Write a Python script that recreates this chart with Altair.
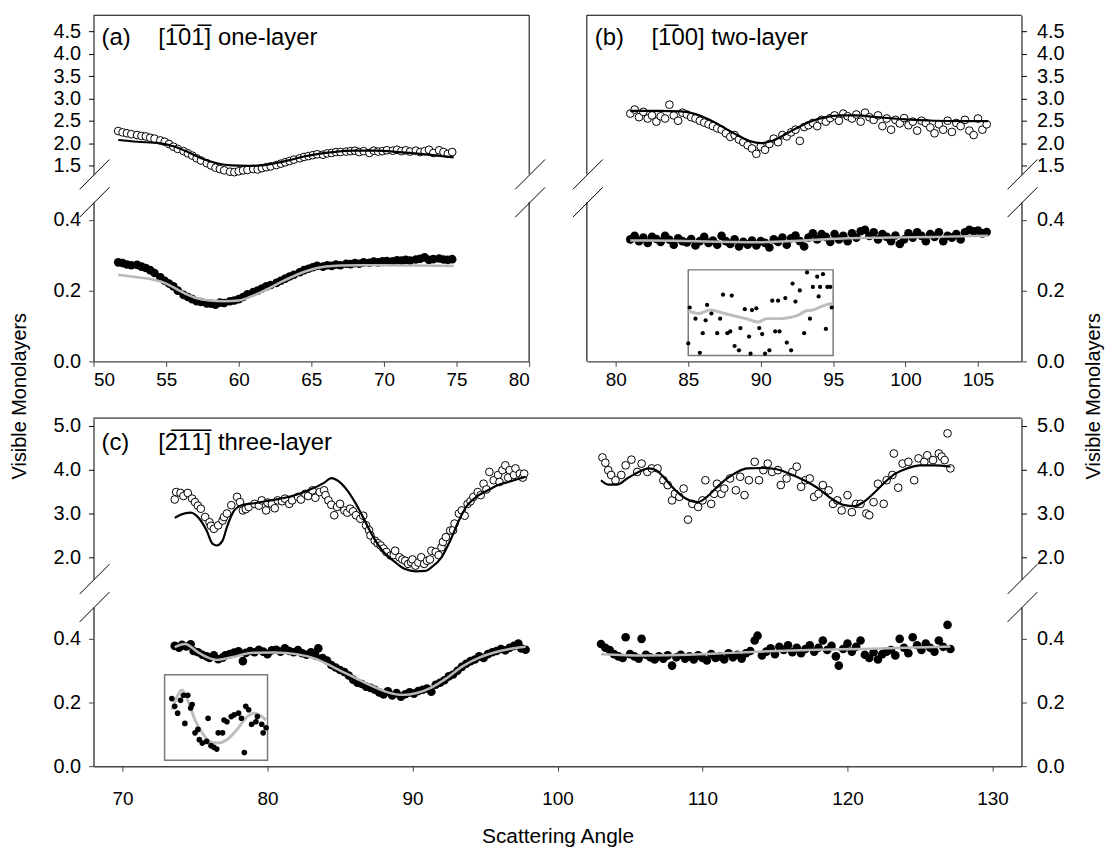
import altair as alt
import pandas as pd

FONT = "Liberation Sans"

# ---------------- panel (a) ----------------
a_x = [51.7, 52.0, 52.3, 52.6, 53.0, 53.3, 53.6, 53.9, 54.2, 54.6,
       54.9, 55.2, 55.5, 55.8, 56.2, 56.5, 56.8, 57.1, 57.4, 57.8,
       58.1, 58.4, 58.7, 59.0, 59.4, 59.7, 60.0, 60.3, 60.6, 61.0,
       61.3, 61.6, 61.9, 62.2, 62.6, 62.9, 63.2, 63.5, 63.8, 64.2,
       64.5, 64.8, 65.1, 65.4, 65.8, 66.1, 66.4, 66.7, 67.0, 67.4,
       67.7, 68.0, 68.3, 68.6, 69.0, 69.3, 69.6, 69.9, 70.2, 70.6,
       70.9, 71.2, 71.5, 71.8, 72.2, 72.5, 72.8, 73.1, 73.4, 73.8,
       74.1, 74.4, 74.7]
a_top = [2.27, 2.24, 2.22, 2.20, 2.18, 2.16, 2.15, 2.12, 2.10, 2.06,
         2.03, 1.98, 1.92, 1.87, 1.82, 1.77, 1.72, 1.66, 1.61, 1.55,
         1.50, 1.45, 1.42, 1.39, 1.36, 1.35, 1.37, 1.39, 1.40, 1.42,
         1.41, 1.44, 1.46, 1.48, 1.51, 1.54, 1.57, 1.60, 1.63, 1.66,
         1.69, 1.71, 1.73, 1.75, 1.74, 1.77, 1.78, 1.80, 1.80, 1.81,
         1.82, 1.83, 1.80, 1.82, 1.78, 1.83, 1.81, 1.82, 1.84, 1.83,
         1.85, 1.82, 1.84, 1.81, 1.83, 1.80, 1.82, 1.85, 1.78, 1.84,
         1.80, 1.76, 1.80]
a_bot = [0.280, 0.278, 0.274, 0.272, 0.273, 0.268, 0.264, 0.258, 0.250, 0.238,
         0.228, 0.220, 0.212, 0.200, 0.188, 0.182, 0.176, 0.170, 0.168, 0.164,
         0.163, 0.160, 0.166, 0.165, 0.170, 0.172, 0.176, 0.182, 0.190, 0.196,
         0.200, 0.206, 0.212, 0.216, 0.222, 0.228, 0.234, 0.240, 0.245, 0.252,
         0.258, 0.262, 0.266, 0.270, 0.268, 0.272, 0.270, 0.274, 0.272, 0.276,
         0.275, 0.278, 0.276, 0.280, 0.279, 0.282, 0.280, 0.283, 0.284, 0.283,
         0.286, 0.285, 0.287, 0.285, 0.288, 0.290, 0.294, 0.287, 0.289, 0.291,
         0.288, 0.287, 0.289]
a_fit_x = [51.7, 53.0, 54.5, 55.5, 56.5, 57.5, 58.5, 59.5, 60.5, 61.5, 62.5,
           63.5, 64.5, 65.5, 66.5, 68.0, 69.5, 71.0, 72.5, 74.0, 74.8]
a_fit_top = [2.07, 2.03, 2.00, 1.93, 1.80, 1.65, 1.55, 1.50, 1.49, 1.50, 1.55,
             1.62, 1.70, 1.76, 1.80, 1.83, 1.83, 1.80, 1.76, 1.71, 1.68]
a_grey_x = [51.7, 53.0, 54.0, 55.0, 56.0, 57.0, 58.0, 59.0, 60.0, 61.0,
            62.0, 63.0, 64.0, 65.0, 66.0, 67.0, 68.5, 70.0, 72.0, 74.8]
a_grey = [0.245, 0.238, 0.232, 0.220, 0.198, 0.180, 0.172, 0.170, 0.172, 0.186,
          0.205, 0.226, 0.245, 0.260, 0.268, 0.271, 0.272, 0.272, 0.271, 0.270]

# ---------------- panel (b) ----------------
b_x = [81.0, 81.3, 81.6, 81.9, 82.2, 82.5, 82.8, 83.1, 83.4, 83.7,
       84.0, 84.3, 84.6, 84.9, 85.2, 85.5, 85.8, 86.1, 86.4, 86.7,
       87.0, 87.3, 87.6, 87.9, 88.2, 88.5, 88.8, 89.1, 89.4, 89.7,
       90.0, 90.3, 90.6, 90.9, 91.2, 91.5, 91.8, 92.1, 92.4, 92.7,
       93.0, 93.3, 93.6, 93.9, 94.2, 94.5, 94.8, 95.1, 95.4, 95.7,
       96.0, 96.3, 96.6, 96.9, 97.2, 97.5, 97.8, 98.1, 98.4, 98.7,
       99.0, 99.3, 99.6, 99.9, 100.2, 100.5, 100.8, 101.1, 101.4, 101.7,
       102.0, 102.3, 102.6, 102.9, 103.2, 103.5, 103.8, 104.1, 104.4, 104.7,
       105.0, 105.3, 105.6]
b_top = [2.66, 2.75, 2.58, 2.70, 2.55, 2.62, 2.48, 2.60, 2.55, 2.86,
         2.62, 2.50, 2.68, 2.64, 2.58, 2.55, 2.50, 2.46, 2.42, 2.38,
         2.33, 2.30, 2.22, 2.14, 2.18, 2.08, 2.02, 1.95, 1.88, 1.76,
         1.92, 1.85, 1.98, 2.10, 2.02, 2.18, 2.15, 2.24, 2.30, 2.05,
         2.36, 2.40, 2.45, 2.38, 2.52, 2.48, 2.56, 2.62, 2.50, 2.66,
         2.60, 2.55, 2.64, 2.48, 2.68, 2.58, 2.52, 2.62, 2.38, 2.55,
         2.30, 2.52, 2.44, 2.56, 2.40, 2.48, 2.28, 2.50, 2.45, 2.35,
         2.22, 2.42, 2.30, 2.50, 2.25, 2.45, 2.38, 2.52, 2.28, 2.18,
         2.55, 2.30, 2.42]
b_bot = [0.345, 0.355, 0.340, 0.350, 0.335, 0.352, 0.346, 0.338, 0.355, 0.344,
         0.330, 0.348, 0.340, 0.336, 0.346, 0.328, 0.340, 0.352, 0.335, 0.342,
         0.330, 0.355, 0.340, 0.332, 0.345, 0.325, 0.338, 0.330, 0.342, 0.328,
         0.340, 0.335, 0.322, 0.345, 0.338, 0.350, 0.330, 0.348, 0.356, 0.340,
         0.325, 0.350, 0.362, 0.345, 0.360, 0.352, 0.338, 0.360, 0.345, 0.355,
         0.340, 0.362, 0.350, 0.368, 0.372, 0.355, 0.365, 0.345, 0.360, 0.352,
         0.340, 0.356, 0.332, 0.345, 0.362, 0.350, 0.365, 0.355, 0.340, 0.360,
         0.352, 0.365, 0.340, 0.355, 0.350, 0.360, 0.345, 0.365, 0.372, 0.368,
         0.370, 0.362, 0.366]
b_fit_x = [81.0, 83.0, 84.5, 85.5, 86.5, 87.5, 88.5, 89.3, 90.0, 90.7, 91.5,
           92.5, 93.5, 94.5, 95.5, 96.5, 98.0, 100.0, 102.0, 104.0, 105.7]
b_fit_top = [2.72, 2.72, 2.71, 2.65, 2.52, 2.34, 2.16, 2.04, 2.00, 2.04, 2.16,
             2.34, 2.49, 2.58, 2.62, 2.62, 2.58, 2.53, 2.50, 2.49, 2.49]
b_grey_x = [81.0, 84.0, 87.0, 90.0, 93.0, 96.0, 99.0, 102.0, 105.7]
b_grey = [0.342, 0.341, 0.338, 0.337, 0.342, 0.348, 0.350, 0.352, 0.355]
# inset of (b): magnified 85-95 degree region
b_in_x = [85.0, 85.1, 85.5, 85.8, 86.0, 86.2, 86.3, 86.6, 87.0, 87.2,
          87.4, 87.7, 87.9, 88.0, 88.2, 88.5, 88.6, 88.9, 89.2, 89.3,
          89.4, 89.7, 89.9, 90.1, 90.3, 90.6, 90.8, 91.0, 91.2, 91.3,
          91.7, 91.8, 92.1, 92.2, 92.4, 92.7, 93.0, 93.2, 93.4, 93.6,
          93.9, 94.0, 94.1, 94.3, 94.5, 94.6, 94.8, 94.9]
b_in_y = [0.314, 0.356, 0.343, 0.303, 0.326, 0.341, 0.359, 0.349, 0.326, 0.343,
          0.371, 0.326, 0.328, 0.370, 0.311, 0.306, 0.332, 0.354, 0.322, 0.302,
          0.353, 0.355, 0.332, 0.325, 0.302, 0.306, 0.364, 0.328, 0.364, 0.328,
          0.367, 0.315, 0.306, 0.384, 0.363, 0.376, 0.326, 0.397, 0.343, 0.380,
          0.392, 0.369, 0.380, 0.395, 0.331, 0.380, 0.380, 0.356]
b_in_line_x = [85.0, 85.7, 86.5, 87.5, 88.2, 89.2, 89.8, 90.4, 91.2, 91.9,
               92.6, 93.1, 93.6, 94.3, 95.0]
b_in_line = [0.352, 0.349, 0.353, 0.349, 0.346, 0.342, 0.339, 0.343, 0.343, 0.344,
             0.347, 0.352, 0.353, 0.358, 0.361]

# ---------------- panel (c) ----------------
c1_x = [73.6, 73.7, 74.0, 74.2, 74.5, 74.8, 75.0, 75.2, 75.4, 75.7,
        76.0, 76.1, 76.3, 76.6, 76.9, 77.0, 77.2, 77.5, 77.9, 78.1,
        78.3, 78.5, 78.7, 79.1, 79.4, 79.6, 79.9, 80.0, 80.3, 80.5,
        80.7, 81.0, 81.2, 81.5, 81.7, 82.1, 82.3, 82.6, 82.8, 83.1,
        83.3, 83.6, 83.9, 84.0, 84.2, 84.4, 84.6, 84.8, 85.0, 85.3,
        85.5, 85.7, 85.9, 86.1, 86.4, 86.6, 86.8, 87.0, 87.1, 87.4,
        87.6, 87.8, 88.0, 88.2, 88.5, 88.7, 88.8, 89.1, 89.3, 89.5,
        89.7, 89.9, 90.0, 90.2, 90.4, 90.6, 90.8, 91.0, 91.2, 91.3,
        91.6, 91.8, 92.0, 92.1, 92.3, 92.6, 92.8, 92.9, 93.2, 93.4,
        93.6, 93.8, 94.0, 94.2, 94.5, 94.7, 94.9, 95.1, 95.3, 95.6,
        95.9, 96.0, 96.2, 96.4, 96.6, 96.7, 97.0, 97.1, 97.4, 97.6,
        97.7]
c1_top = [3.32, 3.49, 3.47, 3.40, 3.47, 3.34, 3.26, 3.18, 3.11, 2.92,
          2.80, 2.72, 2.65, 2.73, 2.84, 2.92, 3.00, 3.19, 3.38, 3.26,
          3.07, 3.10, 3.15, 3.22, 3.18, 3.30, 3.07, 3.25, 3.22, 3.12,
          3.30, 3.28, 3.34, 3.22, 3.30, 3.38, 3.32, 3.45, 3.40, 3.53,
          3.36, 3.49, 3.53, 3.42, 3.30, 3.20, 2.96, 3.15, 3.22, 3.07,
          3.02, 3.11, 3.05, 2.96, 2.88, 2.95, 2.73, 2.62, 2.50, 2.38,
          2.32, 2.27, 2.20, 2.12, 2.04, 2.05, 2.15, 2.00, 1.95, 1.92,
          1.85, 1.89, 1.95, 1.81, 1.88, 2.00, 1.85, 1.92, 1.95, 2.15,
          2.12, 2.05, 2.23, 2.35, 2.46, 2.61, 2.62, 2.77, 3.00, 3.07,
          2.95, 3.22, 3.28, 3.38, 3.49, 3.42, 3.68, 3.55, 3.95, 3.76,
          3.88, 3.72, 3.99, 4.10, 3.82, 3.99, 3.88, 4.03, 3.91, 3.82,
          3.91]
c1_fit_x = [73.6, 74.0, 74.7, 75.3, 75.8, 76.2, 76.5, 76.9, 77.2, 77.7,
            78.2, 79.2, 80.2, 81.2, 82.1, 83.1, 83.9, 84.4, 84.8, 85.5,
            86.1, 86.7, 87.3, 88.0, 88.8, 89.5, 90.2, 90.9, 91.3, 92.0,
            92.6, 93.2, 93.7, 94.4, 95.2, 95.9, 96.6, 97.4, 97.8]
c1_fit = [2.90, 2.97, 3.02, 2.88, 2.61, 2.31, 2.27, 2.38, 2.69, 3.07,
          3.19, 3.24, 3.30, 3.36, 3.44, 3.57, 3.70, 3.81, 3.76, 3.53,
          3.22, 2.84, 2.46, 2.12, 1.89, 1.73, 1.68, 1.69, 1.77, 2.00,
          2.38, 2.84, 3.15, 3.38, 3.53, 3.65, 3.72, 3.80, 3.84]
c1b_x = [73.6, 73.9, 74.1, 74.4, 74.7, 74.9, 75.2, 75.5, 75.8, 76.0,
         76.3, 76.6, 76.9, 77.1, 77.4, 77.7, 78.0, 78.3, 78.5, 78.8,
         79.1, 79.4, 79.7, 80.0, 80.3, 80.6, 80.9, 81.2, 81.5, 81.8,
         82.1, 82.4, 82.7, 83.0, 83.3, 83.5, 83.8, 84.1, 84.4, 84.7,
         85.0, 85.3, 85.6, 85.9, 86.2, 86.5, 86.8, 87.1, 87.4, 87.7,
         88.0, 88.3, 88.6, 88.9, 89.2, 89.5, 89.8, 90.1, 90.4, 90.7,
         91.0, 91.3, 91.6, 91.9, 92.2, 92.5, 92.8, 93.1, 93.4, 93.7,
         94.0, 94.3, 94.6, 94.9, 95.2, 95.5, 95.8, 96.1, 96.4, 96.7,
         97.0, 97.3, 97.5, 97.8]
c1b = [0.378, 0.372, 0.381, 0.376, 0.383, 0.362, 0.358, 0.350, 0.345, 0.340,
       0.348, 0.336, 0.341, 0.348, 0.352, 0.357, 0.361, 0.330, 0.356, 0.362,
       0.358, 0.366, 0.360, 0.352, 0.364, 0.366, 0.360, 0.370, 0.362, 0.358,
       0.365, 0.355, 0.350, 0.358, 0.348, 0.370, 0.340, 0.332, 0.318, 0.310,
       0.302, 0.296, 0.285, 0.272, 0.262, 0.258, 0.250, 0.246, 0.240, 0.232,
       0.225, 0.235, 0.222, 0.230, 0.218, 0.226, 0.232, 0.228, 0.236, 0.240,
       0.244, 0.234, 0.256, 0.262, 0.270, 0.282, 0.288, 0.300, 0.312, 0.322,
       0.330, 0.335, 0.345, 0.340, 0.352, 0.358, 0.362, 0.368, 0.364, 0.372,
       0.378, 0.385, 0.370, 0.366]
c1_grey_x = [73.6, 74.3, 75.3, 76.5, 77.5, 79.0, 80.5, 82.0, 83.3, 84.5, 85.7,
             87.0, 88.3, 89.3, 90.3, 91.3, 92.4, 93.5, 94.6, 95.7, 96.8, 97.8]
c1_grey = [0.374, 0.384, 0.355, 0.334, 0.342, 0.356, 0.357, 0.352, 0.338, 0.312, 0.285,
           0.256, 0.232, 0.224, 0.230, 0.247, 0.278, 0.315, 0.341, 0.358, 0.369, 0.375]
c_in_x = [73.4, 73.6, 73.8, 74.0, 74.2, 74.3, 74.5, 74.7, 74.8, 75.0,
          75.2, 75.3, 75.5, 75.8, 75.9, 76.1, 76.3, 76.5, 76.6, 76.9,
          77.0, 77.2, 77.5, 77.7, 78.0, 78.2, 78.4, 78.5, 78.7, 78.9,
          79.2, 79.3, 79.6, 79.7, 79.9]
c_in_y = [0.372, 0.363, 0.355, 0.370, 0.376, 0.343, 0.376, 0.361, 0.365, 0.332,
          0.336, 0.324, 0.320, 0.322, 0.349, 0.317, 0.315, 0.313, 0.332, 0.332,
          0.347, 0.345, 0.351, 0.353, 0.355, 0.349, 0.309, 0.363, 0.359, 0.342,
          0.345, 0.351, 0.342, 0.332, 0.338]
c_in_line_x = [73.4, 73.7, 74.1, 74.5, 75.0, 75.5, 76.0, 76.5, 77.2, 77.9,
               78.6, 79.1, 79.6, 79.9]
c_in_line = [0.359, 0.372, 0.382, 0.370, 0.347, 0.332, 0.322, 0.320, 0.324, 0.336,
             0.351, 0.355, 0.351, 0.347]
c2_x = [103.1, 103.3, 103.5, 103.7, 104.0, 104.4, 104.7, 105.1, 105.5, 105.8,
        106.2, 106.5, 106.9, 107.3, 107.6, 107.9, 108.1, 108.4, 108.7, 109.0,
        109.3, 109.7, 110.0, 110.2, 110.6, 110.8, 111.0, 111.3, 111.5, 111.9,
        112.3, 112.6, 112.9, 113.2, 113.6, 113.9, 114.2, 114.5, 114.8, 115.2,
        115.4, 115.8, 116.2, 116.5, 116.8, 117.1, 117.4, 117.7, 118.0, 118.3,
        118.7, 119.0, 119.3, 119.6, 120.0, 120.3, 120.6, 120.9, 121.3, 121.5,
        121.8, 122.1, 122.5, 122.7, 123.1, 123.2, 123.5, 123.8, 124.2, 124.6,
        124.9, 125.3, 125.5, 125.9, 126.3, 126.5, 126.7, 126.9, 127.1]
c2_top = [4.28, 4.16, 3.99, 3.88, 3.76, 3.88, 4.10, 4.23, 3.95, 4.14,
          3.95, 4.03, 4.03, 3.76, 3.65, 3.30, 3.45, 3.38, 3.57, 2.86,
          3.22, 3.15, 3.30, 3.76, 3.22, 3.45, 3.68, 3.45, 3.57, 3.80,
          3.53, 3.84, 3.42, 3.76, 4.18, 3.76, 3.99, 4.14, 3.95, 3.99,
          3.65, 3.80, 3.95, 4.07, 3.61, 3.76, 3.80, 3.38, 3.45, 3.65,
          3.53, 3.22, 3.30, 3.07, 3.42, 3.03, 3.22, 3.22, 3.00, 2.96,
          3.26, 3.68, 3.22, 3.76, 3.88, 4.37, 3.59, 4.14, 4.18, 3.76,
          4.26, 4.18, 4.33, 4.22, 4.37, 4.30, 4.22, 4.83, 4.03]
c2_fit_x = [103.0, 103.5, 104.1, 104.8, 105.6, 106.3, 106.8, 107.3, 107.9, 108.5,
            109.1, 109.7, 110.3, 110.9, 111.7, 112.4, 113.1, 114.1, 115.1, 116.0,
            117.0, 118.0, 118.9, 119.8, 120.5, 121.1, 121.9, 122.6, 123.3, 124.1,
            125.0, 126.0, 127.1]
c2_fit = [3.76, 3.66, 3.66, 3.80, 3.95, 4.03, 3.99, 3.84, 3.61, 3.42,
          3.30, 3.26, 3.38, 3.57, 3.80, 3.95, 4.03, 4.04, 4.01, 3.91,
          3.76, 3.57, 3.34, 3.19, 3.17, 3.26, 3.49, 3.72, 3.91, 4.03,
          4.10, 4.10, 4.07]
c2b_x = [103.0, 103.3, 103.6, 103.9, 104.2, 104.5, 104.7, 105.0, 105.3, 105.6,
         105.8, 106.1, 106.4, 106.7, 107.0, 107.3, 107.6, 107.9, 108.2, 108.5,
         108.8, 109.1, 109.4, 109.7, 110.0, 110.3, 110.6, 110.9, 111.2, 111.5,
         111.8, 112.1, 112.4, 112.7, 113.0, 113.3, 113.6, 113.8, 114.1, 114.4,
         114.7, 115.0, 115.3, 115.6, 115.9, 116.2, 116.5, 116.8, 117.1, 117.4,
         117.7, 118.0, 118.3, 118.6, 118.9, 119.2, 119.4, 119.7, 120.0, 120.3,
         120.6, 120.9, 121.2, 121.5, 121.8, 122.1, 122.4, 122.7, 123.0, 123.3,
         123.6, 123.9, 124.2, 124.5, 124.8, 125.1, 125.4, 125.7, 126.0, 126.3,
         126.6, 126.9, 127.1]
c2b = [0.384, 0.372, 0.365, 0.352, 0.345, 0.340, 0.405, 0.352, 0.345, 0.338,
       0.400, 0.350, 0.342, 0.335, 0.345, 0.338, 0.348, 0.316, 0.342, 0.350,
       0.338, 0.345, 0.335, 0.348, 0.340, 0.332, 0.352, 0.340, 0.345, 0.335,
       0.355, 0.342, 0.350, 0.338, 0.355, 0.362, 0.395, 0.410, 0.348, 0.360,
       0.370, 0.352, 0.375, 0.365, 0.380, 0.358, 0.372, 0.355, 0.368, 0.380,
       0.360, 0.372, 0.395, 0.365, 0.378, 0.345, 0.316, 0.368, 0.385, 0.360,
       0.375, 0.395, 0.350, 0.340, 0.358, 0.335, 0.352, 0.360, 0.365, 0.348,
       0.400, 0.372, 0.355, 0.405, 0.380, 0.365, 0.385, 0.372, 0.360, 0.395,
       0.375, 0.444, 0.368]
c2_grey_x = [103.0, 106.0, 109.0, 112.0, 115.0, 118.0, 121.0, 124.0, 127.1]
c2_grey = [0.352, 0.348, 0.350, 0.356, 0.362, 0.366, 0.368, 0.372, 0.376]

# ---------------- layout (pixel ranges of each sub-plot in one view) ----------------
W, H = 933, 755
XA, XB, XC = [0, 438], [496, 933], [0, 933]
YA_UP, YA_LO = [160, 0], [348, 188]
YC_UP, YC_LO = [567, 405], [755, 595]
INSET_LO, INSET_HI = 0.30, 0.40
LOW_COL = "#454545"
GREY = "#b8b8b8"
ONE = pd.DataFrame({"k": [0]})
OPEN_SIZE, DOT_SIZE = 60, 75


def inset_domain(yrange, top_off, bottom_off):
    bottom, top = yrange
    h = bottom - top
    f_lo = 1 - bottom_off / h
    f_hi = 1 - top_off / h
    span = (INSET_HI - INSET_LO) / (f_hi - f_lo)
    d0 = INSET_LO - f_lo * span
    return [d0, d0 + span]


def seg(x1, y1, x2, y2, color="black", width=1.0):
    return alt.Chart(ONE).mark_rule(color=color, strokeWidth=width).encode(
        x=alt.value(x1), y=alt.value(y1), x2=alt.value(x2), y2=alt.value(y2))


def brk(e, yy):
    return seg(e - 14, yy + 15, e + 16, yy - 15)


def label(x, y, txt, size=24):
    return alt.Chart(ONE).mark_text(text=txt, align="left", baseline="alphabetic",
                                    fontSize=size, font=FONT, color="black").encode(
        x=alt.value(x), y=alt.value(y))


def sc(dom, rng):
    return alt.Scale(domain=dom, range=rng, nice=False, zero=False)


def yax(orient, values, lower=False):
    return alt.Axis(orient=orient, values=values, format=".1f", title=None,
                    tickSize=5, labelPadding=8 if orient == "left" else 10,
                    labelFontSize=20,
                    domainColor=LOW_COL if lower else "black",
                    domainWidth=1.5 if lower else 1,
                    tickColor=LOW_COL if lower else "black", grid=False)


def xax(values, pad, offset, title=None):
    kw = dict(orient="bottom", values=values, format="d", tickSize=5, labelPadding=pad,
              labelFontSize=19, offset=offset, domainColor=LOW_COL, domainWidth=1.5,
              tickColor=LOW_COL, grid=False)
    if title:
        return alt.Axis(title=title, titlePadding=17, titleFontSize=21, **kw)
    return alt.Axis(title=None, **kw)


def opens(x, y, xs, ys, axis=None):
    df = pd.DataFrame({"angle": x, "ml": y})
    return alt.Chart(df).mark_circle(fill="white", stroke="black", strokeWidth=1,
                                     size=OPEN_SIZE, opacity=1).encode(
        x=alt.X("angle:Q", scale=xs, axis=None),
        y=alt.Y("ml:Q", scale=ys, axis=axis))


def dots(x, y, xs, ys, xaxis=None, axis=None, size=DOT_SIZE):
    df = pd.DataFrame({"angle": x, "ml": y})
    return alt.Chart(df).mark_circle(color="black", size=size, opacity=1).encode(
        x=alt.X("angle:Q", scale=xs, axis=xaxis),
        y=alt.Y("ml:Q", scale=ys, axis=axis))


def curve(x, y, xs, ys, color, width):
    df = pd.DataFrame({"angle": x, "ml": y})
    return alt.Chart(df).mark_line(color=color, strokeWidth=width,
                                   interpolate="monotone").encode(
        x=alt.X("angle:Q", scale=xs, axis=None),
        y=alt.Y("ml:Q", scale=ys, axis=None))


def inset(xs, yrange, box_x, px, py, lx, ly, dot_size):
    ys = sc(inset_domain(yrange, 68, 154), yrange)
    box = pd.DataFrame({"x0": [box_x[0]], "x1": [box_x[1]],
                        "y0": [INSET_LO], "y1": [INSET_HI]})
    rect = alt.Chart(box).mark_rect(fill=None, stroke="#7a7a7a", strokeWidth=1.5).encode(
        x=alt.X("x0:Q", scale=xs, axis=None), x2="x1:Q",
        y=alt.Y("y0:Q", scale=ys, axis=None), y2="y1:Q")
    ln = curve(lx, ly, xs, ys, "#bdbdbd", 3)
    pts = alt.Chart(pd.DataFrame({"angle": px, "iv": py})).mark_circle(
        color="black", size=dot_size, opacity=1).encode(
        x=alt.X("angle:Q", scale=xs, axis=None),
        y=alt.Y("iv:Q", scale=ys, axis=None))
    return [rect, ln, pts]


UP_AB = [1.5, 2.0, 2.5, 3.0, 3.5, 4.0, 4.5]
UP_C = [2.0, 3.0, 4.0, 5.0]
LO_V = [0.0, 0.2, 0.4]

xsA = sc([50, 80], XA)
xsB = sc([78, 108], XB)
xsC = sc([68, 132], XC)
ysA_up = sc([1.3, 4.86], YA_UP)
ysA_lo = sc([0, 0.45], YA_LO)
ysB_up = sc([1.3, 4.86], YA_UP)
ysB_lo = sc([0, 0.45], YA_LO)
ysC_up = sc([1.5, 5.18], YC_UP)
ysC_lo = sc([0, 0.5], YC_LO)

AX_OFF = YA_LO[0] - H  # move the (a)/(b) x axes up to their own panels

layers = [
    # ---- (a)
    opens(a_x, a_top, xsA, ysA_up, yax("left", UP_AB)),
    curve(a_fit_x, a_fit_top, xsA, ysA_up, "black", 2.2),
    dots(a_x, a_bot, xsA, ysA_lo, xax(list(range(50, 81, 5)), 4, AX_OFF),
         yax("left", LO_V, True)),
    curve(a_grey_x, a_grey, xsA, ysA_lo, GREY, 2.5),
    # ---- (b)
    opens(b_x, b_top, xsB, ysB_up, yax("right", UP_AB)),
    curve(b_fit_x, b_fit_top, xsB, ysB_up, "black", 2.2),
    dots(b_x, b_bot, xsB, ysB_lo, xax(list(range(80, 106, 5)), 4, AX_OFF),
         yax("right", LO_V, True)),
    curve(b_grey_x, b_grey, xsB, ysB_lo, GREY, 2.5),
    *inset(xsB, YA_LO, [85, 95], b_in_x, b_in_y, b_in_line_x, b_in_line, 18),
    # ---- (c)
    opens(c1_x, c1_top, xsC, ysC_up, yax("left", UP_C)),
    opens(c2_x, c2_top, xsC, ysC_up, yax("right", UP_C)),
    curve(c1_fit_x, c1_fit, xsC, ysC_up, "black", 2.2),
    curve(c2_fit_x, c2_fit, xsC, ysC_up, "black", 2.2),
    dots(c1b_x, c1b, xsC, ysC_lo, xax(list(range(70, 131, 10)), 19, 0, "Scattering Angle"),
         yax("left", LO_V, True)),
    dots(c2b_x, c2b, xsC, ysC_lo, None, yax("right", LO_V, True)),
    curve(c1_grey_x, c1_grey, xsC, ysC_lo, GREY, 2.5),
    curve(c2_grey_x, c2_grey, xsC, ysC_lo, GREY, 2.5),
    *inset(xsC, YC_LO, [72.9, 80.0], c_in_x, c_in_y, c_in_line_x, c_in_line, 32),
    # ---- frames and axis breaks
    seg(XA[0], 0, XA[1], 0), seg(XA[1], 0, XA[1], YA_UP[0]),
    seg(XA[1], YA_LO[1], XA[1], YA_LO[0], LOW_COL, 1.5),
    seg(XB[0], 0, XB[1], 0), seg(XB[0], 0, XB[0], YA_UP[0]),
    seg(XB[0], YA_LO[1], XB[0], YA_LO[0], LOW_COL, 1.5),
    seg(XC[0], YC_UP[1], XC[1], YC_UP[1]),
    brk(XA[0], YA_UP[0]), brk(XA[0], YA_LO[1]), brk(XA[1], YA_UP[0]), brk(XA[1], YA_LO[1]),
    brk(XB[0], YA_UP[0]), brk(XB[0], YA_LO[1]), brk(XB[1], YA_UP[0]), brk(XB[1], YA_LO[1]),
    brk(XC[0], YC_UP[0]), brk(XC[0], YC_LO[1]), brk(XC[1], YC_UP[0]), brk(XC[1], YC_LO[1]),
    # ---- panel labels
    label(8, 30, "(a)"), label(65, 30, "[1\u030501\u0305] one-layer"),
    label(XB[0] + 8, 30, "(b)"), label(XB[0] + 65, 30, "[1\u030500] two-layer"),
    label(8, YC_UP[1] + 32, "(c)"),
    label(65, YC_UP[1] + 32, "[2\u03051\u03051\u0305] three-layer"),
]

ytitle_kw = dict(text="Visible Monolayers", angle=270, align="center", baseline="middle",
                 fontSize=20, font=FONT, color="black")
layers.append(alt.Chart(ONE).mark_text(**ytitle_kw).encode(x=alt.value(-74), y=alt.value(383)))
layers.append(alt.Chart(ONE).mark_text(**ytitle_kw).encode(x=alt.value(W + 73), y=alt.value(383)))

chart = alt.layer(*layers).resolve_scale(
    x="independent", y="independent"
).properties(
    width=W, height=H,
    padding={"left": 2, "top": 4, "right": 4, "bottom": 4}
).configure_view(stroke=None).configure_axis(
    labelFont=FONT, labelFontSize=18, labelColor="black", titleFont=FONT,
    titleFontSize=20, titleColor="black", titleFontWeight="normal", grid=False
).configure_text(font=FONT)

chart.save("out.html", embed_options={"renderer": "svg", "actions": False})
